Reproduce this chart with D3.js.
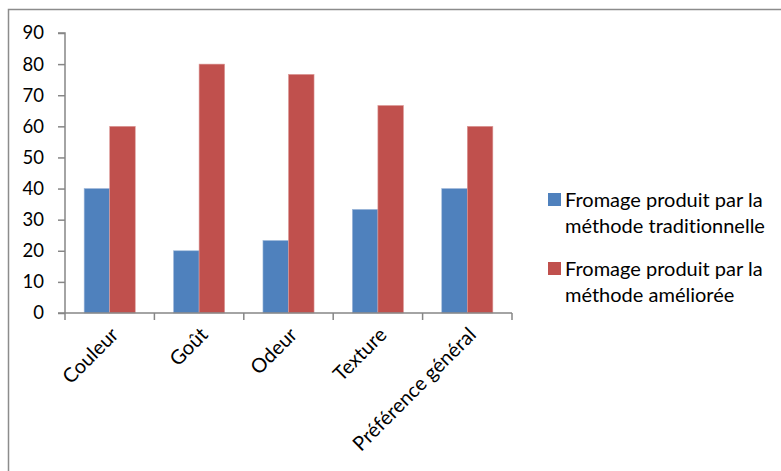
<!DOCTYPE html>
<html>
<head>
<meta charset="utf-8">
<script src="https://cdn.jsdelivr.net/npm/d3@7"></script>
<style>
  html, body { margin: 0; padding: 0; background: #fff; }
  svg { display: block; }
  text { font-family: Lato, "Liberation Sans", sans-serif; fill: #000; font-variant-ligatures: none; font-feature-settings: "liga" 0; }
</style>
</head>
<body>
<svg id="chart" width="781" height="471"></svg>
<script>
const categories = ["Couleur", "Goût", "Odeur", "Texture", "Préférence général"];
const seriesNames = ["Fromage produit par la méthode traditionnelle", "Fromage produit par la méthode améliorée"];
const legendLines = [["Fromage produit par la", "méthode traditionnelle"], ["Fromage produit par la", "méthode améliorée"]];
const traditionnelle = [40, 20, 23.3, 33.3, 40];
const amelioree = [60, 80, 76.7, 66.7, 60];
const yTicks = [0, 10, 20, 30, 40, 50, 60, 70, 80, 90];
const colors = ["#4F81BD", "#C0504D"];

const svg = d3.select("#chart");
const W = 781, H = 471;

// outer frame
svg.append("path")
  .attr("d", `M8.5,${H+2} L8.5,9.5 L${W+2},9.5`)
  .attr("fill", "none").attr("stroke", "#8c8c8c").attr("stroke-width", 1.5);

const plot = { left: 65, right: 512, top: 33, bottom: 313 };

const x = d3.scaleBand().domain(categories).range([plot.left, plot.right]).paddingInner(0).paddingOuter(0);
const y = d3.scaleLinear().domain([0, 90]).range([plot.bottom, plot.top]);
const inner = d3.scaleBand().domain([0, 1]).range([0, x.bandwidth()]).paddingInner(0).paddingOuter(0.75);

const data = categories.map((c, i) => ({ cat: c, vals: [traditionnelle[i], amelioree[i]] }));

const g = svg.append("g");
const groups = g.selectAll("g.cat").data(data).join("g")
  .attr("transform", d => `translate(${x(d.cat)},0)`);
groups.selectAll("rect").data(d => d.vals.map((v, k) => ({ v, k }))).join("rect")
  .attr("x", d => inner(d.k))
  .attr("width", inner.bandwidth())
  .attr("y", d => y(d.v))
  .attr("height", d => y(0) - y(d.v))
  .attr("fill", d => colors[d.k])
  .attr("stroke", d => d.k === 0 ? "#9db7d9" : "#dc9a98")
  .attr("stroke-width", 0.6);

// Y axis
const yAxis = d3.axisLeft(y).tickValues(yTicks).tickSize(7).tickPadding(14).tickFormat(d3.format("d"));
const ya = svg.append("g").attr("transform", `translate(${plot.left},0)`).call(yAxis);
ya.select(".domain").attr("stroke", "#868686").attr("stroke-width", 1.5).attr("d", `M-7,${plot.top}H0V${plot.bottom}`);
ya.selectAll(".tick line").attr("stroke", "#868686").attr("stroke-width", 1.5);
ya.selectAll(".tick text").style("font-family", "Lato").style("font-size", "18.5px").attr("fill", "#000");

// X axis
const xa = svg.append("g").attr("transform", `translate(0,${plot.bottom})`);
xa.append("line").attr("x1", plot.left - 7).attr("x2", plot.right).attr("y1", 0).attr("y2", 0)
  .attr("stroke", "#868686").attr("stroke-width", 1.5);
const bounds = categories.map(c => x(c)).concat([x(categories[categories.length - 1]) + x.bandwidth()]);
xa.selectAll("line.tk").data(bounds).join("line").attr("class", "tk")
  .attr("x1", d => d).attr("x2", d => d).attr("y1", 0).attr("y2", 7)
  .attr("stroke", "#868686").attr("stroke-width", 1.5);
xa.selectAll("text.cat").data(categories).join("text").attr("class", "cat")
  .attr("transform", c => `translate(${x(c) + x.bandwidth() / 2 + 10},${23}) rotate(-45)`)
  .attr("text-anchor", "end")
  .style("font-size", "20px")
  .text(c => c);

// Legend
const lg = svg.append("g");
legendLines.forEach((lines, i) => {
  const y0 = 207 + i * 69;
  lg.append("rect").attr("x", 548).attr("y", y0 - 14).attr("width", 13).attr("height", 13).attr("fill", colors[i]);
  lines.forEach((t, j) => {
    lg.append("text").attr("x", 565).attr("y", y0 + j * 26).style("font-size", "20px").text(t);
  });
});
</script>
</body>
</html>
